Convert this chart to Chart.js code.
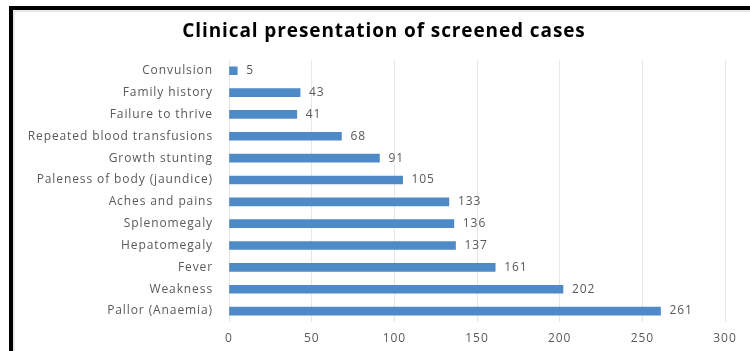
<!DOCTYPE html>
<html>
<head>
<meta charset="utf-8">
<script src="https://cdn.jsdelivr.net/npm/chart.js@4"></script>
<style>
  html, body { margin: 0; padding: 0; background: #fff; overflow: hidden; }
  #wrap { position: relative; width: 750px; height: 351px; overflow: hidden; }
  #chart { display: block; }
  .edge { position: absolute; background: #000; pointer-events: none; }
  #edgeTop { left: 9px; top: 6px; width: 741px; height: 4px; }
  #edgeLeft { left: 9px; top: 6px; width: 4px; height: 345px; }
  .shade { position: absolute; background: #e8e8e8; pointer-events: none; }
  #shadeTop { left: 13px; top: 10px; width: 737px; height: 2px; }
  #shadeLeft { left: 13px; top: 10px; width: 2px; height: 341px; }
</style>
</head>
<body>
<div id="wrap">
  <canvas id="chart" width="750" height="351"></canvas>
  <div class="shade" id="shadeTop"></div>
  <div class="shade" id="shadeLeft"></div>
  <div class="edge" id="edgeTop"></div>
  <div class="edge" id="edgeLeft"></div>
</div>
<script>
// Dữ liệu biểu đồ
const symptoms = [
    'Convulsion',
    'Family history',
    'Failure to thrive',
    'Repeated blood transfusions',
    'Growth stunting',
    'Paleness of body (jaundice)',
    'Aches and pains',
    'Splenomegaly',
    'Hepatomegaly',
    'Fever',
    'Weakness',
    'Pallor (Anaemia)'
];
const caseCounts = [5, 43, 41, 68, 91, 105, 133, 136, 137, 161, 202, 261];
const axisMin = 0;
const axisMax = 300;
const axisStep = 50;

const textColor = '#595959';
const fontFamily = '"Open Sans", "Liberation Sans", sans-serif';

// Chữ trong ảnh gốc hơi giãn ngang
const letterSpacing = {
    id: 'letterSpacing',
    beforeDraw(chart) {
        chart.ctx.letterSpacing = '0.9px';
    }
};

// Plugin vẽ giá trị ở cuối mỗi thanh
const valueLabels = {
    id: 'valueLabels',
    afterDatasetsDraw(chart) {
        const ctx = chart.ctx;
        const meta = chart.getDatasetMeta(0);
        ctx.save();
        ctx.font = '12px ' + fontFamily;
        ctx.fillStyle = textColor;
        ctx.textAlign = 'left';
        ctx.textBaseline = 'middle';
        meta.data.forEach((bar, i) => {
            ctx.fillText(String(caseCounts[i]), bar.x + 9, bar.y);
        });
        ctx.restore();
    }
};

new Chart(document.getElementById('chart'), {
    type: 'bar',
    data: {
        labels: symptoms,
        datasets: [{
            data: caseCounts,
            backgroundColor: '#4e8ac8',
            barThickness: 8
        }]
    },
    options: {
        indexAxis: 'y',
        responsive: false,
        animation: false,
        layout: { padding: { left: 22, right: 4, top: 0, bottom: 0 } },
        plugins: {
            legend: { display: false },
            tooltip: { enabled: false },
            title: {
                display: true,
                text: 'Clinical presentation of screened cases',
                color: '#000',
                font: { family: fontFamily, size: 19, weight: 'bold' },
                padding: { top: 20, bottom: 17 }
            }
        },
        scales: {
            x: {
                min: axisMin,
                max: axisMax,
                ticks: {
                    stepSize: axisStep,
                    color: textColor,
                    font: { family: fontFamily, size: 12 },
                    padding: 9
                },
                grid: { color: '#e6e6e6', drawTicks: false },
                border: { display: false },
                afterFit(scale) {
                    scale.paddingRight = 25;
                    scale.height = 29;
                }
            },
            y: {
                ticks: {
                    color: textColor,
                    font: { family: fontFamily, size: 12 },
                    padding: 8
                },
                grid: { display: false },
                border: { display: false },
                afterFit(scale) { scale.width = 207; }
            }
        }
    },
    plugins: [letterSpacing, valueLabels]
});
</script>
</body>
</html>
